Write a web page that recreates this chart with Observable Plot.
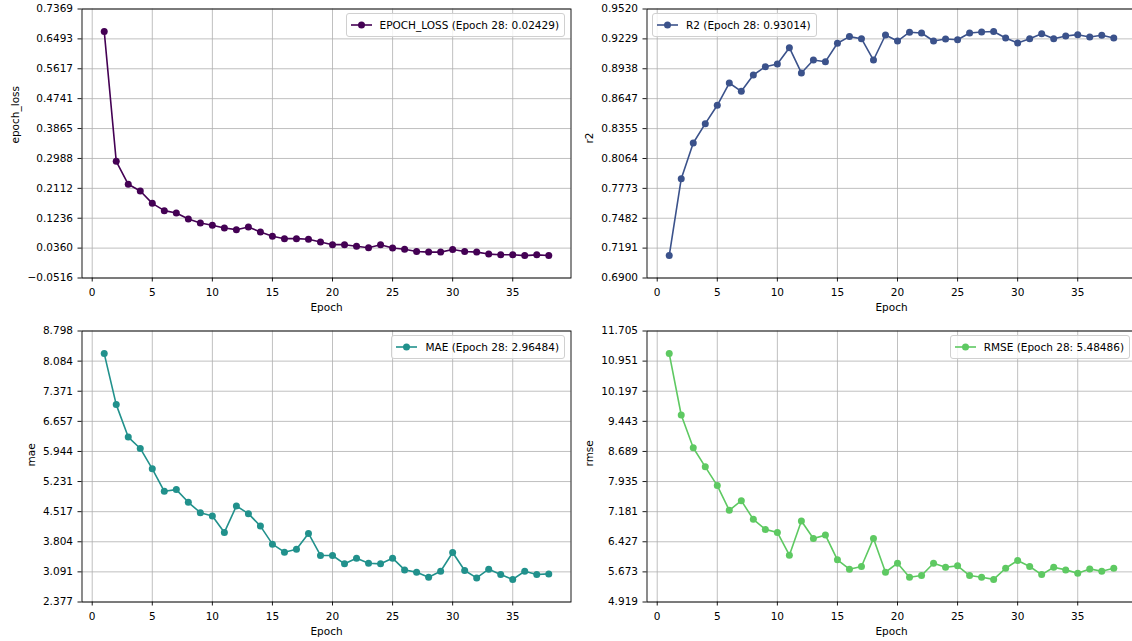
<!DOCTYPE html>
<html>
<head>
<meta charset="utf-8">
<script src="https://cdn.jsdelivr.net/npm/d3@7"></script>
<script src="https://cdn.jsdelivr.net/npm/@observablehq/plot@0.6"></script>
<style>
  html, body { margin: 0; padding: 0; background: #fff; overflow: hidden; }
  #root { position: relative; width: 1132px; height: 641px; overflow: hidden; font-family: "DejaVu Sans", sans-serif; }
  .panel { position: absolute; width: 575px; }
  .panel svg { max-width: none !important; display: block; }
  .legend {
    position: absolute; display: flex; align-items: center;
    font: 10.5px "DejaVu Sans", sans-serif; color: #000; line-height: 14px;
    background: rgba(255,255,255,0.8); border: 1px solid #d0d0d0; border-radius: 3px;
    padding: 4px 5px 4px 4px; white-space: nowrap;
  }
  .legend svg { display: block; margin-right: 8px; }
</style>
</head>
<body>
<div id="root"></div>
<script>
// ---- data ----
const epochs = [1,2,3,4,5,6,7,8,9,10,11,12,13,14,15,16,17,18,19,20,21,22,23,24,25,26,27,28,29,30,31,32,33,34,35,36,37,38];

const epochLoss = [0.6712, 0.2904, 0.2230, 0.2034, 0.1673, 0.1458, 0.1389, 0.1214, 0.1096, 0.1028,
  0.0950, 0.0901, 0.0979, 0.0833, 0.0706, 0.0637, 0.0637, 0.0618, 0.0540, 0.0461,
  0.0461, 0.0413, 0.0373, 0.0461, 0.0364, 0.0325, 0.0262, 0.02429, 0.0243, 0.0320,
  0.0262, 0.0243, 0.0185, 0.0165, 0.0165, 0.0141, 0.0162, 0.0145];

const r2 = [0.7118, 0.7867, 0.8215, 0.8403, 0.8582, 0.8799, 0.8718, 0.8877, 0.8958, 0.8984,
  0.9143, 0.8897, 0.9023, 0.9007, 0.9186, 0.9251, 0.9231, 0.9023, 0.9267, 0.9208,
  0.9294, 0.9286, 0.9208, 0.9228, 0.9221, 0.9286, 0.9296, 0.93014, 0.9238, 0.9189,
  0.9231, 0.9280, 0.9231, 0.9257, 0.9270, 0.9247, 0.9264, 0.9238];

const mae = [8.263, 7.054, 6.285, 6.015, 5.532, 5.001, 5.040, 4.739, 4.493, 4.414,
  4.026, 4.652, 4.470, 4.176, 3.748, 3.558, 3.629, 4.002, 3.479, 3.479,
  3.281, 3.415, 3.296, 3.281, 3.415, 3.138, 3.082, 2.96484, 3.106, 3.550,
  3.122, 2.948, 3.154, 3.027, 2.912, 3.106, 3.027, 3.043];

const rmse = [11.1395, 9.602, 8.781, 8.304, 7.834, 7.214, 7.457, 6.988, 6.737, 6.661,
  6.092, 6.946, 6.511, 6.594, 5.974, 5.740, 5.807, 6.511, 5.664, 5.891,
  5.539, 5.581, 5.891, 5.790, 5.824, 5.581, 5.539, 5.48486, 5.765, 5.958,
  5.807, 5.606, 5.790, 5.723, 5.639, 5.748, 5.690, 5.765];

const xTicks = [0, 5, 10, 15, 20, 25, 30, 35];
const lossTicks = ["−0.0516", "0.0360", "0.1236", "0.2112", "0.2988", "0.3865", "0.4741", "0.5617", "0.6493", "0.7369"];
const r2Ticks = ["0.6900", "0.7191", "0.7482", "0.7773", "0.8064", "0.8355", "0.8647", "0.8938", "0.9229", "0.9520"];
const maeTicks = ["2.377", "3.091", "3.804", "4.517", "5.231", "5.944", "6.657", "7.371", "8.084", "8.798"];
const rmseTicks = ["4.919", "5.673", "6.427", "7.181", "7.935", "8.689", "9.443", "10.197", "10.951", "11.705"];

const yLabels = ["epoch_loss", "r2", "mae", "rmse"];
const legendLabels = ["EPOCH_LOSS (Epoch 28: 0.02429)", "R2 (Epoch 28: 0.93014)", "MAE (Epoch 28: 2.96484)", "RMSE (Epoch 28: 5.48486)"];
const colors = ["#440154", "#3b528b", "#21918c", "#5ec962"];

// ---- layout ----
const panels = [
  {values: epochLoss, ticks: lossTicks, left: 0,   top: 0,   h: 320, mt: 8.5,  mb: 42.5, labelOff: 66, legend: "right"},
  {values: r2,        ticks: r2Ticks,   left: 565, top: 0,   h: 320, mt: 8.5,  mb: 42.5, labelOff: 57, legend: "left"},
  {values: mae,       ticks: maeTicks,  left: 0,   top: 320, h: 321, mt: 10.5, mb: 39.5, labelOff: 50, legend: "right"},
  {values: rmse,      ticks: rmseTicks, left: 565, top: 320, h: 321, mt: 10.5, mb: 39.5, labelOff: 57, legend: "right"}
];

const root = document.getElementById("root");
const W = 575, ML = 81.5, MR = 4.5;

panels.forEach((p, k) => {
  const data = epochs.map((e, i) => ({epoch: e, value: p.values[i]}));
  const tickVals = p.ticks.map(s => +s.replace("−", "-"));
  const fmt = new Map(tickVals.map((v, i) => [v, p.ticks[i]]));
  const gridStyle = {stroke: "#b0b0b0", strokeOpacity: 1, strokeWidth: 0.8};
  const chart = Plot.plot({
    width: W, height: p.h,
    marginLeft: ML, marginRight: MR, marginTop: p.mt, marginBottom: p.mb,
    style: {fontFamily: "DejaVu Sans", fontSize: "10.5px", color: "#000", background: "transparent", overflow: "visible", maxWidth: "none"},
    x: {domain: [-0.85, 39.85]},
    y: {domain: [tickVals[0], tickVals[tickVals.length - 1]]},
    marks: [
      Plot.gridX(xTicks, gridStyle),
      Plot.gridY(tickVals, gridStyle),
      Plot.line(data, {x: "epoch", y: "value", stroke: colors[k], strokeWidth: 1.6}),
      Plot.dot(data, {x: "epoch", y: "value", fill: colors[k], r: 3.5, stroke: "none"}),
      Plot.frame({stroke: "#000", strokeWidth: 0.9}),
      Plot.axisX(xTicks, {tickSize: 4, tickPadding: 7, label: null, strokeWidth: 0.9}),
      Plot.axisY(tickVals, {tickSize: 4, tickPadding: 5, label: null, tickFormat: d => fmt.get(d), strokeWidth: 0.9}),
      Plot.text(["Epoch"], {frameAnchor: "bottom", dy: 32.5, fontSize: 10.5, fill: "#000"}),
      Plot.text([yLabels[k]], {frameAnchor: "left", dx: -p.labelOff, rotate: -90, fontSize: 10.5, fill: "#000"})
    ]
  });
  const div = document.createElement("div");
  div.className = "panel";
  div.style.left = p.left + "px";
  div.style.top = p.top + "px";
  div.appendChild(chart);
  root.appendChild(div);

  // legend
  const lg = document.createElement("div");
  lg.className = "legend";
  const c = colors[k];
  lg.innerHTML = `<svg width="21" height="10"><line x1="0" y1="5" x2="21" y2="5" stroke="${c}" stroke-width="1.6"/><circle cx="10.5" cy="5" r="3.5" fill="${c}"/></svg><span></span>`;
  lg.querySelector("span").textContent = legendLabels[k];
  lg.style.top = (p.top + p.mt + 4.5) + "px";
  if (p.legend === "right") {
    const frameRight = p.left + W - MR;
    lg.style.right = (1132 - (frameRight - 5.5)) + "px";
  } else {
    lg.style.left = (p.left + ML + 5.5) + "px";
  }
  root.appendChild(lg);
});
</script>
</body>
</html>
